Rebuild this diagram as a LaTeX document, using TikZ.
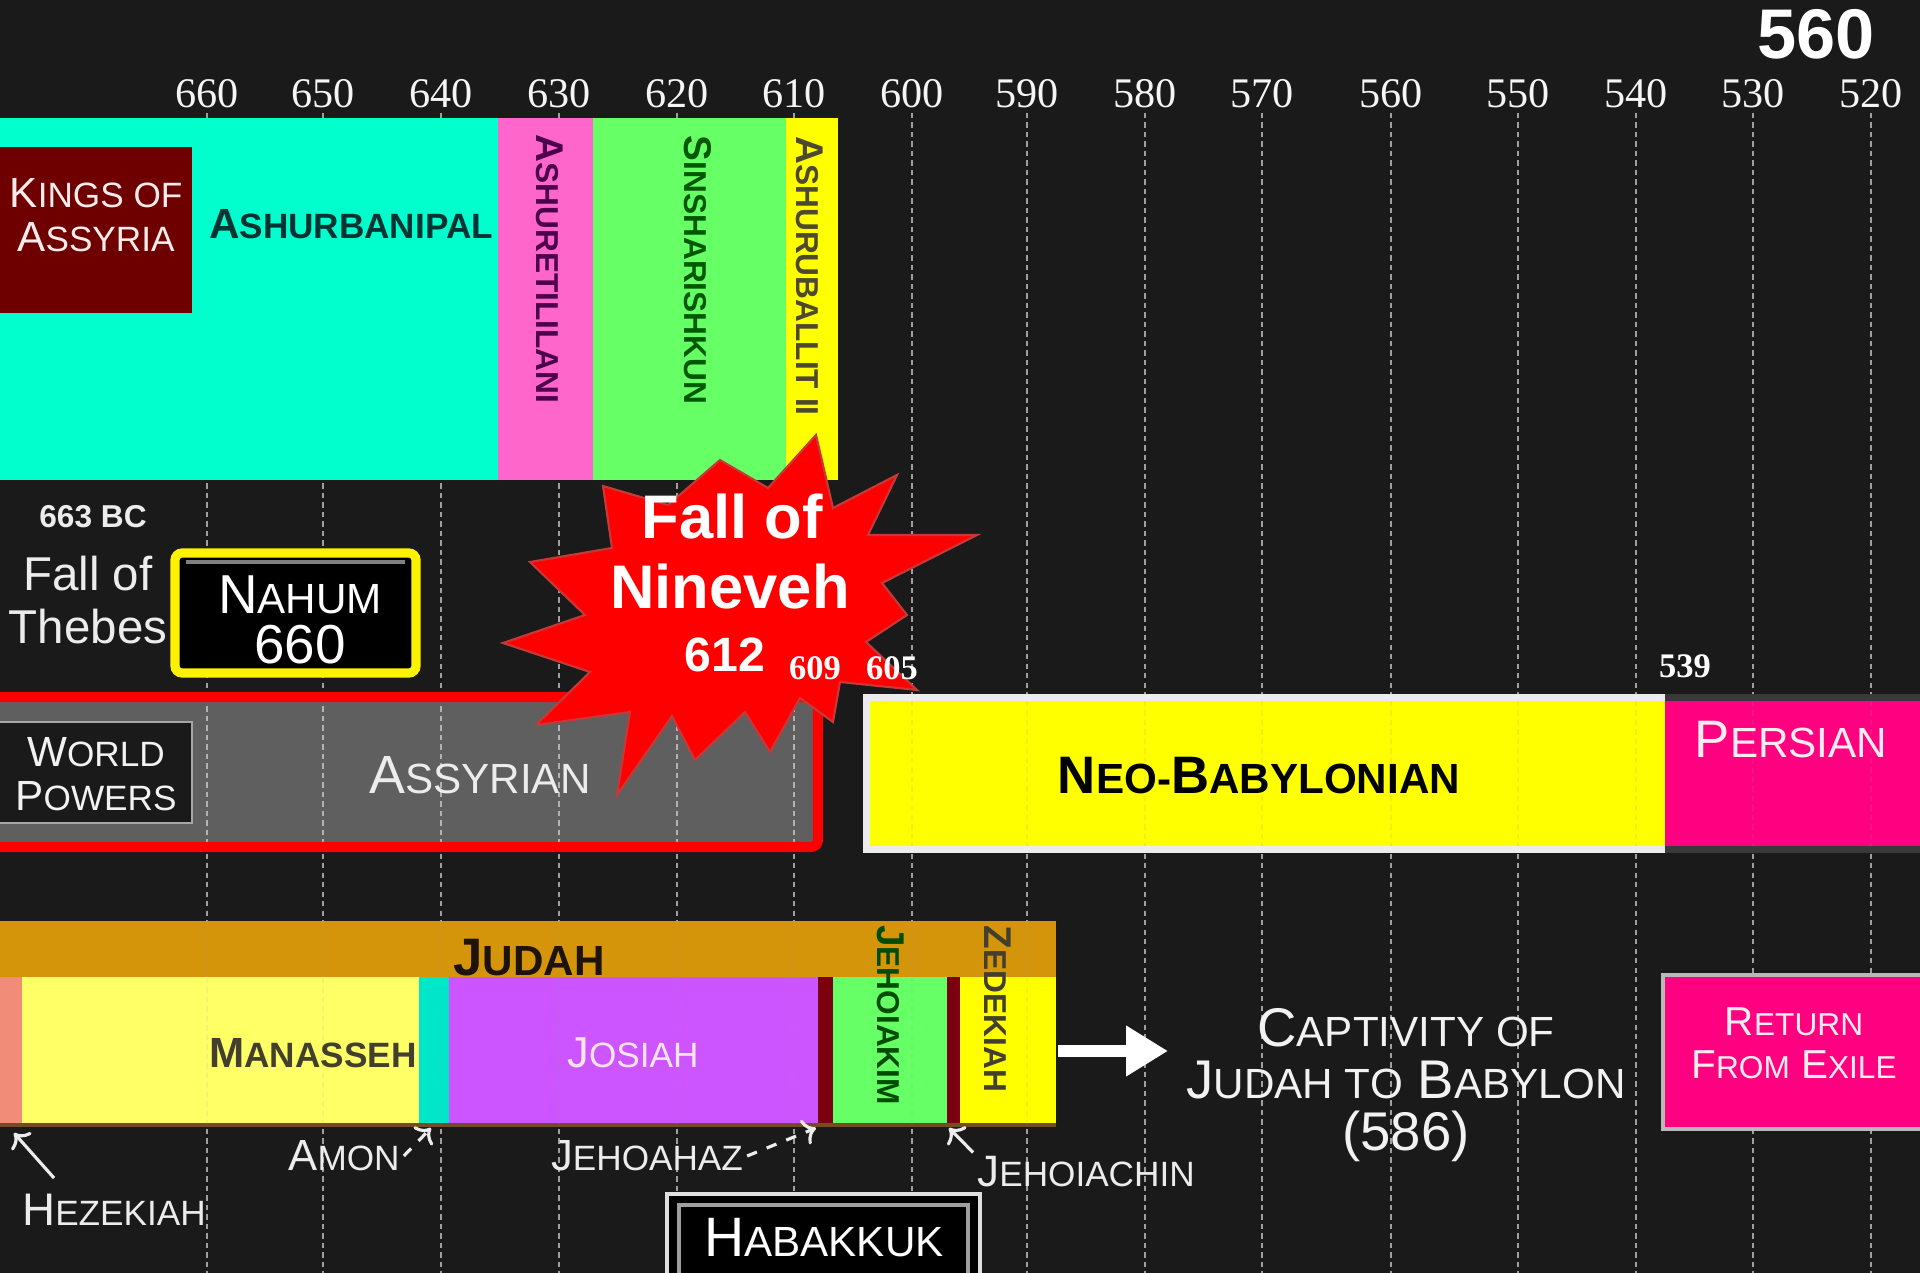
\documentclass[tikz,border=0pt]{standalone}
\usepackage{fontspec}
\setmainfont{Liberation Sans}
\newfontfamily\yrfont{Liberation Serif}
\usepackage{relsize}
\usepackage{xcolor}
\usetikzlibrary{arrows.meta}

\newcommand{\sml}[1]{{\relscale{0.8}#1}}

\definecolor{bgdark}{HTML}{1A1A1A}
\definecolor{cyank}{HTML}{00FFCC}
\definecolor{pinkk}{HTML}{FF66CC}
\definecolor{greenk}{HTML}{66FF66}
\definecolor{yellowk}{HTML}{FFFF00}
\definecolor{kingred}{HTML}{6E0000}
\definecolor{greyas}{HTML}{5F5F5F}
\definecolor{persian}{HTML}{FF0080}
\definecolor{gold}{HTML}{D4950A}
\definecolor{hezek}{HTML}{F08C78}
\definecolor{manas}{HTML}{FFFF66}
\definecolor{amonc}{HTML}{00E6C8}
\definecolor{josiahc}{HTML}{CC55FF}
\definecolor{darkredk}{HTML}{7A0010}

\begin{document}
\begin{tikzpicture}[x=0.01cm, y=-0.01cm,
  gridln/.style={gray!75, line width=0.7pt, dash pattern=on 1.5pt off 1.2pt},
  yearlab/.style={text=white!92!gray, font=\yrfont\fontsize{12}{14}\selectfont},
  kingtxt/.style={rotate=-90, inner sep=0pt, font=\bfseries\fontsize{11}{13}\selectfont},
  boxtxt/.style={align=center, inner sep=1pt, font=\fontsize{12}{12.5}\selectfont},
  startxt/.style={text=white, inner sep=0pt, font=\bfseries\fontsize{17.5}{20}\selectfont},
  smallyr/.style={text=white, inner sep=0pt, font=\yrfont\bfseries\fontsize{9.8}{11}\selectfont},
  lbl/.style={text=gray!15, inner sep=1pt, font=\fontsize{12.4}{14}\selectfont},
  ptr/.style={->, gray!15, line width=0.9pt}]

% background
\fill[bgdark] (0,0) rectangle (1920,1273);
\useasboundingbox (0,0) rectangle (1920,1273);

% year scale
\node[text=white, font=\bfseries\fontsize{20}{24}\selectfont] (top) at (1816,34) {560};
\foreach \x/\yr in {207/660,323/650,441/640,559/630,677/620,794/610,912/600,1027/590,
                    1145/580,1262/570,1391/560,1518/550,1636/540,1753/530,1871/520}{
  \draw[gridln] (\x,113) -- (\x,1273);
  \node[yearlab] (yr\yr) at (\x,94) {\yr};
}

% kings of Assyria
\fill[cyank] (0,118) rectangle (498,480);
\fill[pinkk] (498,118) rectangle (593,480);
\fill[greenk] (593,118) rectangle (786,480);
\fill[yellowk] (786,118) rectangle (838,480);
\fill[kingred] (0,147) rectangle (192,313);
\node[boxtxt, text=red!8!white] (kings) at (96,215) {K\sml{INGS OF}\\A\sml{SSYRIA}};
\node[text=teal!40!black, font=\bfseries\fontsize{12}{14}\selectfont] (ashurbanipal) at (351,224) {A\sml{SHURBANIPAL}};
\node[kingtxt, text=violet!60!black] (ashuretil) at (550,269) {A\sml{SHURETILILANI}};
\node[kingtxt, text=green!35!black] (sinshar) at (698,270) {S\sml{INSHARISHKUN}};
\node[kingtxt, text=olive!40!black] (ashurub) at (810,276) {A\sml{SHURUBALLIT II}};

% Thebes and Nahum
\node[text=gray!15, font=\bfseries\fontsize{9}{11}\selectfont] (bc663) at (93,517) {663 BC};
\node[text=gray!15, align=center, font=\fontsize{13.5}{15.2}\selectfont] (thebes) at (88,600) {Fall of\\Thebes};
\draw[yellow, fill=black, line width=2.6pt, rounded corners=2pt] (175,553) rectangle (416,673);
\draw[gray, line width=1pt] (186,562) -- (405,562);
\node[boxtxt, text=white, font=\fontsize{15.6}{14}\selectfont] (nahum) at (300,620) {N\sml{AHUM}\\660};

% world powers
\fill[greyas] (0,697) rectangle (818,847);
\begin{scope}
  \clip (0,702) rectangle (813,842);
  \foreach \x in {207,323,441,559,677,794}
    \draw[gridln, gray!60] (\x,697) -- (\x,847);
\end{scope}
\draw[red, line width=2.85pt, rounded corners=2pt] (-30,697) rectangle (818,847);
\draw[fill=bgdark, draw=gray!70, line width=0.8pt] (-5,722) rectangle (192,823);
\node[boxtxt, text=gray!10] (world) at (96,774) {W\sml{ORLD}\\P\sml{OWERS}};
\node[text=gray!15, font=\fontsize{15.3}{17}\selectfont] (assyrian) at (480,775) {A\sml{SSYRIAN}};

% fall of Nineveh
\draw[fill=red, draw=red!55!gray, line width=0.6pt]
  (816,435) -- (833,508) -- (897,475) -- (868,535) -- (977,535) -- (882,583)
  -- (907,615) -- (866,642) -- (917,690) -- (840,682) -- (833,722) -- (800,698)
  -- (770,752) -- (745,712) -- (695,760) -- (672,716) -- (617,795) -- (630,712)
  -- (536,725) -- (590,672) -- (503,643) -- (585,615) -- (530,562) -- (612,548)
  -- (603,486) -- (668,505) -- (720,460) -- (768,488) -- cycle;
\node[startxt] (fallof) at (732,517) {Fall of};
\node[startxt] (nineveh) at (730,587) {Nineveh};
\node[startxt, font=\bfseries\fontsize{13.7}{15}\selectfont] (y612) at (725,655) {612};
\node[smallyr] (y609) at (815,668) {609};
\node[smallyr] (y605) at (892,668) {605};

% Neo-Babylonian and Persian
\fill[gray!15] (863,694) rectangle (1665,853);
\fill[gray!45!black] (1665,694) rectangle (1920,853);
\fill[yellowk] (870,701) rectangle (1665,846);
\fill[persian] (1665,701) rectangle (1920,846);
\foreach \x in {912,1027,1145,1262,1391,1518,1636,1753,1871}
  \draw[gridln, opacity=0.15] (\x,701) -- (\x,846);
\node[smallyr] (y539) at (1685,666) {539};
\node[text=black, font=\bfseries\fontsize{15}{17}\selectfont] (neobab) at (1259,776) {N\sml{EO-}B\sml{ABYLONIAN}};
\node[text=pink!30!white, font=\fontsize{15}{17}\selectfont] (persianlab) at (1791,740) {P\sml{ERSIAN}};

% Judah
\fill[gold] (0,921) rectangle (1056,977);
\fill[hezek] (0,977) rectangle (22,1124);
\fill[manas] (22,977) rectangle (419,1124);
\fill[amonc] (419,977) rectangle (449,1124);
\fill[josiahc] (449,977) rectangle (818,1124);
\fill[darkredk] (818,977) rectangle (833,1124);
\fill[greenk] (833,977) rectangle (947,1124);
\fill[darkredk] (947,977) rectangle (960,1124);
\fill[yellowk] (960,977) rectangle (1056,1124);
\draw[brown!60!black, line width=1.2pt] (0,1125) -- (1056,1125);
\foreach \x in {207,323,441,559,677,794,912,1027}
  \draw[gridln, opacity=0.12] (\x,921) -- (\x,1124);
\node[text=black!85!brown, font=\bfseries\fontsize{15}{17}\selectfont] (judah) at (529,958) {J\sml{UDAH}};
\node[text=olive!30!black, font=\bfseries\fontsize{12}{14}\selectfont] (manasseh) at (313,1053) {M\sml{ANASSEH}};
\node[text=pink!40!white, font=\fontsize{12.3}{14}\selectfont] (josiah) at (633,1053) {J\sml{OSIAH}};
\node[kingtxt, text=green!30!black] (jehoiakim) at (891,1015) {J\sml{EHOIAKIM}};
\node[kingtxt, text=olive!30!black] (zedekiah) at (998,1009) {Z\sml{EDEKIAH}};

% captivity
\coordinate (zedend) at (1058,1051);
\node[align=center, text=gray!10, font=\fontsize{15.5}{14.8}\selectfont] (captivity) at (1406,1085)
  {C\sml{APTIVITY OF}\\J\sml{UDAH TO} B\sml{ABYLON}\\(586)};
\draw[white, line width=3.4pt, -{Triangle[length=0.42cm,width=0.48cm]}, shorten >=0.06cm]
  (zedend) -- (zedend -| captivity.west);
\draw[fill=persian, draw=gray!55, line width=1pt] (1663,975) rectangle (1930,1129);
\node[boxtxt, text=pink!30!white, font=\fontsize{11.5}{12.2}\selectfont] (return) at (1794,1043) {R\sml{ETURN}\\F\sml{ROM} E\sml{XILE}};

% kings of Judah labels
\node[lbl] (amon) at (344,1156) {A\sml{MON}};
\coordinate (amonpt) at (431,1128);
\draw[ptr, dashed] (amon.east) -- (amonpt);
\node[lbl] (jehoahaz) at (647,1156) {J\sml{EHOAHAZ}};
\coordinate (jehoahazpt) at (816,1128);
\draw[ptr, dashed] (jehoahaz.east) -- (jehoahazpt);
\node[lbl, font=\fontsize{12.5}{14}\selectfont] (jehoiachin) at (1086,1172) {J\sml{EHOIACHIN}};
\coordinate (jehoiachinpt) at (949,1128);
\draw[ptr] (jehoiachin.north west) -- (jehoiachinpt);
\node[lbl, font=\fontsize{13}{15}\selectfont] (hezekiah) at (114,1210) {H\sml{EZEKIAH}};
\coordinate (hezekiahpt) at (14,1133);
\draw[ptr] ([xshift=0.36cm,yshift=0.12cm]hezekiah.north west) -- (hezekiahpt);

% Habakkuk
\draw[fill=black, draw=gray!25, line width=1.3pt] (667,1194) rectangle (980,1300);
\draw[gray!75, line width=1pt] (679,1205) rectangle (968,1288);
\node[text=white, font=\fontsize{15.8}{17}\selectfont] (habakkuk) at (824,1238) {H\sml{ABAKKUK}};
\end{tikzpicture}
\end{document}
